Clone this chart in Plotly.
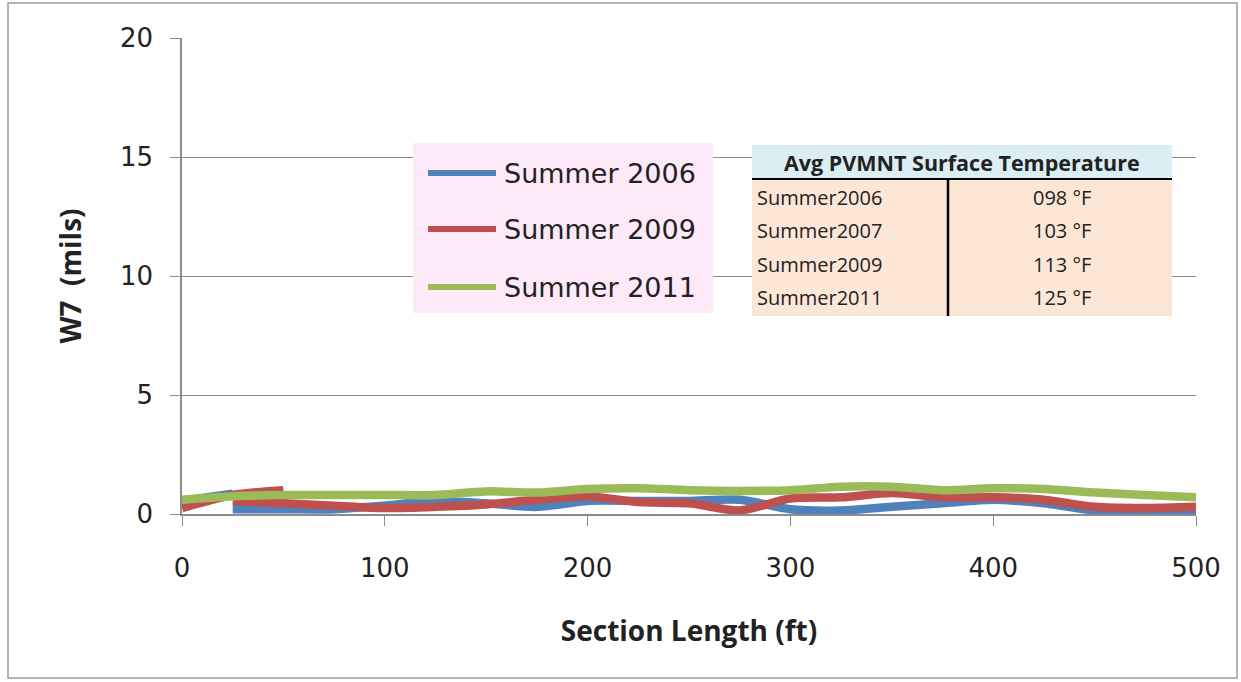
import plotly.graph_objects as go

# ---------------- data ----------------
series_names = ["Summer 2006", "Summer 2009", "Summer 2011"]
series_colors = ["#4F81BD", "#C0504D", "#9BBB59"]

dist_2006 = [0, 25, None, 25, 50, 75, 100, 125, 150, 175, 200, 225, 250, 275, 300, 325, 350, 375, 400, 425, 450, 475, 500]
w7_2006 = [0.55, 0.85, None, 0.2, 0.2, 0.2, 0.35, 0.55, 0.45, 0.3, 0.55, 0.55, 0.55, 0.6, 0.2, 0.15, 0.3, 0.45, 0.6, 0.45, 0.15, 0.1, 0.1]

dist_2009 = [0, 25, 50, None, 25, 50, 75, 100, 125, 150, 175, 200, 225, 250, 275, 300, 325, 350, 375, 400, 425, 450, 475, 500]
w7_2009 = [0.25, 0.8, 1.0, None, 0.55, 0.45, 0.35, 0.25, 0.3, 0.4, 0.6, 0.75, 0.5, 0.45, 0.15, 0.65, 0.7, 0.88, 0.7, 0.7, 0.6, 0.3, 0.25, 0.3]

dist_2011 = [0, 25, 50, 75, 100, 125, 150, 175, 200, 225, 250, 275, 300, 325, 350, 375, 400, 425, 450, 475, 500]
w7_2011 = [0.6, 0.75, 0.8, 0.8, 0.8, 0.8, 0.95, 0.9, 1.05, 1.08, 1.0, 0.97, 1.0, 1.15, 1.15, 1.0, 1.08, 1.05, 0.9, 0.8, 0.7]

x_ticks = [0, 100, 200, 300, 400, 500]
y_ticks = [0, 5, 10, 15, 20]

table_title = "Avg PVMNT Surface Temperature"
table_labels = ["Summer2006", "Summer2007", "Summer2009", "Summer2011"]
table_temps = ["098 °F", "103 °F", "113 °F", "125 °F"]

# ---------------- figure ----------------
W, H = 1241, 682
L, R, T, B = 182, 1196, 38, 514
PW, PH = R - L, B - T


def px(x):
    return (x - L) / PW


def py(y):
    return (B - y) / PH


fig = go.Figure()
for name, color, xs, ys in zip(series_names, series_colors,
                               [dist_2006, dist_2009, dist_2011],
                               [w7_2006, w7_2009, w7_2011]):
    fig.add_trace(go.Scatter(x=xs, y=ys, mode="lines", name=name,
                             line=dict(color=color, width=8.5, shape="spline", smoothing=0.8),
                             connectgaps=False, showlegend=False))

shapes = []
annotations = []

# outer chart border
shapes.append(dict(type="rect", xref="paper", yref="paper", x0=px(8), x1=px(1237), y0=py(678), y1=py(3),
                   line=dict(color="#9A9A9A", width=1.5), fillcolor="rgba(0,0,0,0)", layer="below"))

# custom legend
shapes.append(dict(type="rect", xref="paper", yref="paper", x0=px(413), x1=px(713), y0=py(313), y1=py(143),
                   line=dict(width=0), fillcolor="#FDE9F8"))
leg_y = [173, 229, 287]
for name, color, yy in zip(series_names, series_colors, leg_y):
    shapes.append(dict(type="line", xref="paper", yref="paper", x0=px(428), x1=px(496), y0=py(yy), y1=py(yy),
                       line=dict(color=color, width=6)))
    annotations.append(dict(xref="paper", yref="paper", x=px(502), y=py(yy), text=name, showarrow=False,
                            xanchor="left", yanchor="middle",
                            font=dict(family="DejaVu Sans", size=27, color="#222222")))

# temperature table
tx0, tx1, tmid = 752, 1172, 948
hy0, hy1, by1 = 145, 179, 316
shapes.append(dict(type="rect", xref="paper", yref="paper", x0=px(tx0), x1=px(tx1), y0=py(hy1), y1=py(hy0),
                   line=dict(width=0), fillcolor="#DBEEF4"))
shapes.append(dict(type="rect", xref="paper", yref="paper", x0=px(tx0), x1=px(tx1), y0=py(by1), y1=py(hy1),
                   line=dict(width=0), fillcolor="#FCE6D6"))
shapes.append(dict(type="line", xref="paper", yref="paper", x0=px(tx0), x1=px(tx1), y0=py(hy1), y1=py(hy1),
                   line=dict(color="black", width=2)))
shapes.append(dict(type="line", xref="paper", yref="paper", x0=px(tmid), x1=px(tmid), y0=py(by1), y1=py(hy1),
                   line=dict(color="black", width=2.5)))
annotations.append(dict(xref="paper", yref="paper", x=px((tx0 + tx1) / 2), y=py(163), text="<b>" + table_title + "</b>",
                        showarrow=False, xanchor="center", yanchor="middle",
                        font=dict(family="Open Sans", size=21.5, color="#222222")))
row_y = [197, 230, 264, 297]
for lab, temp, yy in zip(table_labels, table_temps, row_y):
    annotations.append(dict(xref="paper", yref="paper", x=px(755), y=py(yy), text=lab, showarrow=False,
                            xanchor="left", yanchor="middle",
                            font=dict(family="Open Sans", size=20, color="#222222")))
    annotations.append(dict(xref="paper", yref="paper", x=px(1062), y=py(yy), text=temp, showarrow=False,
                            xanchor="center", yanchor="middle",
                            font=dict(family="Open Sans", size=20, color="#222222")))

fig.update_layout(
    width=W, height=H,
    margin=dict(l=L, r=W - R, t=T, b=H - B, pad=0),
    paper_bgcolor="white", plot_bgcolor="white",
    shapes=shapes, annotations=annotations,
    showlegend=False,
    xaxis=dict(range=[0, 500], tickvals=x_ticks, ticks="outside", ticklen=10, tickcolor="#8C8C8C",
               showline=True, linecolor="#8C8C8C", linewidth=1.5, showgrid=False, zeroline=False,
               ticklabelstandoff=20,
               tickfont=dict(family="DejaVu Sans", size=26, color="#222222"),
               title=dict(text="<b>Section Length (ft)</b>", standoff=39,
                          font=dict(family="Open Sans", size=28, color="#222222"))),
    yaxis=dict(range=[0, 20], tickvals=y_ticks, ticks="outside", ticklen=10, tickcolor="#8C8C8C",
               showline=True, linecolor="#8C8C8C", linewidth=1.5, showgrid=True, gridcolor="#8C8C8C",
               gridwidth=1, zeroline=False, ticklabelstandoff=12,
               tickfont=dict(family="DejaVu Sans", size=26, color="#222222"),
               title=dict(text="<b>W7  (mils)</b>", standoff=30,
                          font=dict(family="Open Sans", size=28, color="#222222"))),
)

fig.write_html("out.html")
